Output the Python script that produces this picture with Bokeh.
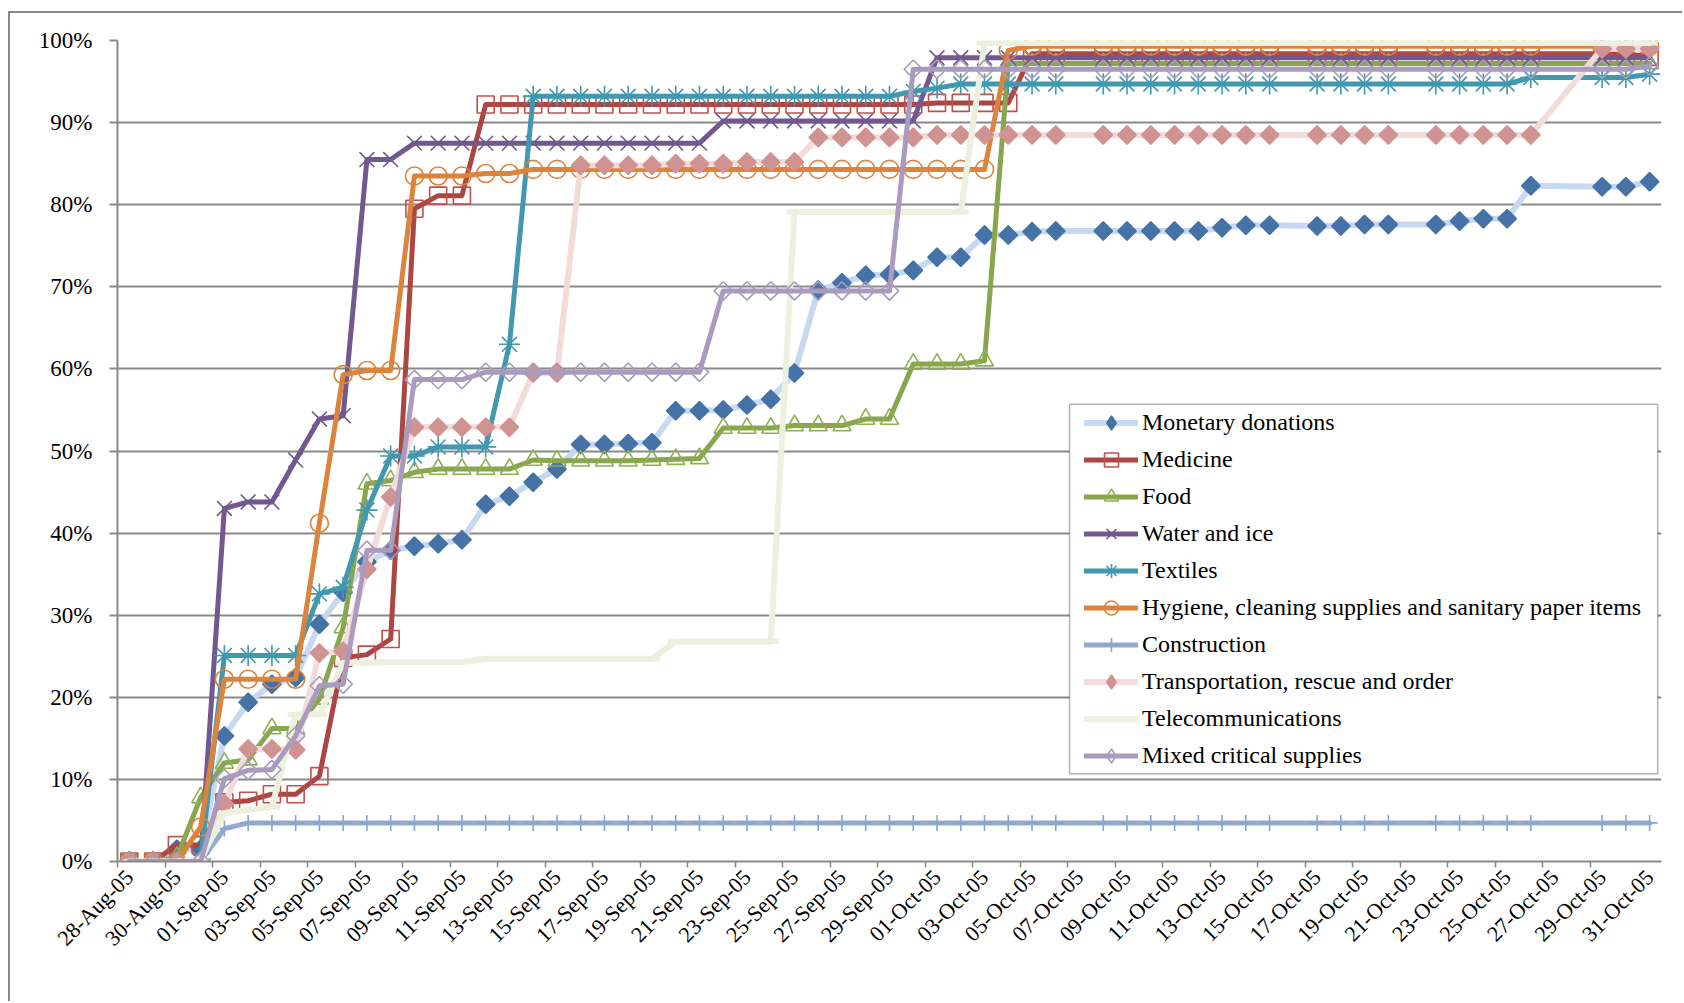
from math import pi

import pandas as pd
from bokeh.embed import file_html
from bokeh.models import (BoxAnnotation, ColumnDataSource, FixedTicker, Legend, LegendItem,
                          PrintfTickFormatter, Range1d)
from bokeh.plotting import figure
from bokeh.resources import INLINE

# Daily categories, 28 Aug 2005 .. 31 Oct 2005
dates = pd.date_range("2005-08-28", "2005-10-31", freq="D")
day_labels = [d.strftime("%d-%b-%y") for d in dates]

N = None  # no report on that day

# Cumulative share (%) of each donation category
monetary = [0, 0, 1.5, 1.5, 15.3, 19.4, 21.6, 22.4, 28.9, 32.8,
            36.5, 37.9, 38.4, 38.7, 39.2, 43.5, 44.5, 46.2, 47.8, 50.8,
            50.8, 50.9, 51.0, 54.9, 54.9, 55.0, 55.6, 56.3, 59.5, 69.6,
            70.5, 71.4, 71.5, 72.0, 73.6, 73.6, 76.3, 76.3, 76.7, 76.8,
            N, 76.8, 76.8, 76.8, 76.8, 76.8, 77.2, 77.5, 77.5, N,
            77.4, 77.4, 77.6, 77.6, N, 77.6, 78.0, 78.3, 78.3, 82.3,
            N, N, 82.2, 82.2, 82.8]
medicine = [0, 0, 2.0, 2.0, 7.2, 7.4, 8.2, 8.2, 10.4, 24.8,
            25.2, 27.1, 79.5, 81.1, 81.1, 92.2, 92.2, 92.2, 92.2, 92.2,
            92.2, 92.2, 92.2, 92.2, 92.2, 92.2, 92.2, 92.2, 92.2, 92.2,
            92.2, 92.2, 92.2, 92.2, 92.4, 92.4, 92.4, 92.4, 98.4, 98.4,
            N, 98.4, 98.4, 98.4, 98.4, 98.4, 98.4, 98.4, 98.4, N,
            98.4, 98.4, 98.4, 98.4, N, 98.4, 98.4, 98.4, 98.4, 98.4,
            N, N, 98.4, 98.4, 98.0]
food = [0, 0, 0.5, 7.8, 12.0, 12.4, 16.2, 16.2, 19.8, 28.5,
        46.0, 46.4, 47.4, 47.8, 47.8, 47.8, 47.8, 48.9, 48.8, 48.8,
        48.8, 48.8, 48.9, 49.0, 49.1, 52.8, 52.8, 52.8, 53.1, 53.1,
        53.1, 53.9, 53.9, 60.6, 60.6, 60.6, 61.0, 97.2, 97.2, 97.2,
        N, 97.2, 97.2, 97.2, 97.2, 97.2, 97.2, 97.2, 97.2, N,
        97.2, 97.2, 97.2, 97.2, N, 97.2, 97.2, 97.2, 97.2, 97.2,
        N, N, 97.2, 97.2, 97.2]
water_ice = [0, 0, 0, 0, 43.0, 43.8, 43.8, 48.9, 53.9, 54.3,
             85.5, 85.5, 87.5, 87.5, 87.5, 87.5, 87.5, 87.5, 87.5, 87.5,
             87.5, 87.5, 87.5, 87.5, 87.5, 90.2, 90.2, 90.2, 90.2, 90.2,
             90.2, 90.2, 90.2, 90.2, 97.9, 97.9, 97.9, 97.9, 97.9, 97.9,
             N, 97.9, 97.9, 97.9, 97.9, 97.9, 97.9, 97.9, 97.9, N,
             97.9, 97.9, 97.9, 97.9, N, 97.9, 97.9, 97.9, 97.9, 97.9,
             N, N, 97.9, 97.9, 97.9]
textiles = [0, 0, 0, 0.3, 25.1, 25.1, 25.1, 25.1, 32.6, 33.4,
            42.8, 49.4, 49.4, 50.5, 50.5, 50.5, 63.0, 93.2, 93.2, 93.2,
            93.2, 93.2, 93.2, 93.2, 93.2, 93.2, 93.2, 93.2, 93.2, 93.2,
            93.2, 93.2, 93.2, 93.8, 94.2, 94.7, 94.7, 94.7, 94.7, 94.7,
            N, 94.7, 94.7, 94.7, 94.7, 94.7, 94.7, 94.7, 94.7, N,
            94.7, 94.7, 94.7, 94.7, N, 94.7, 94.7, 94.7, 94.7, 95.5,
            N, N, 95.5, 95.5, 95.9]
hygiene = [0, 0, 0, 4.2, 22.2, 22.2, 22.2, 22.2, 41.2, 59.3,
           59.8, 59.8, 83.5, 83.5, 83.5, 83.8, 83.8, 84.3, 84.3, 84.3,
           84.3, 84.3, 84.3, 84.3, 84.3, 84.3, 84.3, 84.3, 84.3, 84.3,
           84.3, 84.3, 84.3, 84.3, 84.3, 84.3, 84.3, 98.8, 99.3, 99.3,
           N, 99.3, 99.3, 99.3, 99.3, 99.3, 99.3, 99.3, 99.3, N,
           99.3, 99.3, 99.3, 99.3, N, 99.3, 99.3, 99.3, 99.3, 99.3,
           N, N, 99.3, 99.3, 99.3]
construction = [0, 0, 0, 0, 4.0, 4.7, 4.7, 4.7, 4.7, 4.7,
                4.7, 4.7, 4.7, 4.7, 4.7, 4.7, 4.7, 4.7, 4.7, 4.7,
                4.7, 4.7, 4.7, 4.7, 4.7, 4.7, 4.7, 4.7, 4.7, 4.7,
                4.7, 4.7, 4.7, 4.7, 4.7, 4.7, 4.7, 4.7, 4.7, 4.7,
                N, 4.7, 4.7, 4.7, 4.7, 4.7, 4.7, 4.7, 4.7, N,
                4.7, 4.7, 4.7, 4.7, N, 4.7, 4.7, 4.7, 4.7, 4.7,
                N, N, 4.7, 4.7, 4.7]
transport = [0, 0, 0, 0, 7.0, 13.7, 13.7, 13.6, 25.4, 25.6,
             35.6, 44.4, 52.9, 52.9, 52.9, 52.9, 52.9, 59.5, 59.5, 84.8,
             84.8, 84.8, 84.8, 85.0, 85.0, 85.0, 85.2, 85.2, 85.2, 88.2,
             88.2, 88.2, 88.2, 88.2, 88.5, 88.5, 88.5, 88.5, 88.5, 88.5,
             N, 88.5, 88.5, 88.5, 88.5, 88.5, 88.5, 88.5, 88.5, N,
             88.5, 88.5, 88.5, 88.5, N, 88.5, 88.5, 88.5, 88.5, 88.5,
             N, N, 99.0, 99.0, 99.0]
telecom = [0, 0, 0, 0.3, 5.9, 6.3, 6.6, 17.9, 17.9, 24.2,
           24.2, 24.3, 24.3, 24.3, 24.3, 24.7, 24.7, 24.7, 24.7, 24.7,
           24.7, 24.7, 24.7, 26.8, 26.8, 26.8, 26.8, 26.8, 79.1, 79.1,
           79.1, 79.1, 79.1, 79.1, 79.1, 79.1, 99.7, 99.7, 99.7, 99.7,
           N, 99.7, 99.7, 99.7, 99.7, 99.7, 99.7, 99.7, 99.7, N,
           99.7, 99.7, 99.7, 99.7, N, 99.7, 99.7, 99.7, 99.7, 99.7,
           N, N, 99.7, 99.7, 99.7]
mixed = [0, 0, 0, 0, 10.1, 11.1, 11.2, 15.3, 21.4, 21.6,
         37.9, 37.9, 58.7, 58.7, 58.7, 59.6, 59.6, 59.6, 59.6, 59.6,
         59.6, 59.6, 59.6, 59.6, 59.6, 69.5, 69.5, 69.5, 69.5, 69.5,
         69.5, 69.5, 69.5, 96.5, 96.5, 96.5, 96.5, 96.5, 96.5, 96.5,
         N, 96.5, 96.5, 96.5, 96.5, 96.5, 96.5, 96.5, 96.5, N,
         96.5, 96.5, 96.5, 96.5, N, 96.5, 96.5, 96.5, 96.5, 96.5,
         N, N, 96.5, 96.5, 96.9]

# name, values, line colour, marker, marker fill, marker outline, marker size
series = [
    ("Monetary donations", monetary, "#c6d9f1", "square", "#4572a7", "#4572a7", 13),
    ("Medicine", medicine, "#aa4643", "square", None, "#c0504d", 17),
    ("Food", food, "#89a54e", "triangle", None, "#8db14f", 18),
    ("Water and ice", water_ice, "#71588f", "x", None, "#71588f", 21),
    ("Textiles", textiles, "#4198af", "asterisk", None, "#4198af", 21),
    ("Hygiene, cleaning supplies and sanitary paper items", hygiene, "#db843d", "circle", None, "#e0823b", 18),
    ("Construction", construction, "#93a9cf", "cross", None, "#8aa4cc", 16),
    ("Transportation, rescue and order", transport, "#f2dcdb", "square", "#d19392", "#d19392", 13),
    ("Telecommunications", telecom, "#ebf1de", "dash", None, "#ebf1de", 16),
    ("Mixed critical supplies", mixed, "#a99bbd", "square", None, "#a99bbd", 13),
]
# series whose markers are diamonds (squares turned by 45 degrees)
diamonds = {"Monetary donations", "Transportation, rescue and order", "Mixed critical supplies"}

GRID = "#898989"
FONT = "Liberation Serif"

p = figure(frame_width=1544, frame_height=821,
           x_range=Range1d(-0.5, 64.5), y_range=Range1d(0, 100),
           min_border_left=107, min_border_top=27, min_border_right=21, min_border_bottom=140,
           output_backend="svg", toolbar_location=None)
p.margin = (11, 0, 0, 8)
p.styles = {"border-left": f"2px solid {GRID}", "border-top": f"2px solid {GRID}"}
p.outline_line_color = None
p.background_fill_color = "white"
p.border_fill_color = "white"
# range used only by the legend key renderers, which keeps their points off the frame
p.extra_x_ranges = {"legend_keys": Range1d(1000, 1001)}

# y axis: 0% .. 100%
p.yaxis.ticker = FixedTicker(ticks=list(range(0, 101, 10)))
p.yaxis.formatter = PrintfTickFormatter(format="%d%%")
p.yaxis.major_label_text_font = FONT
p.yaxis.major_label_text_font_size = "23px"
p.yaxis.major_label_text_color = "black"
p.yaxis.major_label_standoff = 17
p.yaxis.major_tick_out = 8
p.yaxis.major_tick_in = 0
p.yaxis.minor_tick_line_color = None
p.yaxis.major_tick_line_color = GRID
p.yaxis.major_tick_line_width = 2
p.yaxis.axis_line_color = GRID
p.yaxis.axis_line_width = 2

# x axis: labels on every second day, tick marks between categories
even_days = list(range(0, len(day_labels), 2))
p.xaxis.ticker = FixedTicker(ticks=even_days,
                             minor_ticks=[k - 0.5 for k in range(0, len(day_labels) - 1, 2)])
p.xaxis.major_label_overrides = {k: day_labels[k] for k in even_days}
p.xaxis.major_label_orientation = pi / 4
p.xaxis.major_label_text_font = FONT
p.xaxis.major_label_text_font_size = "22px"
p.xaxis.major_label_text_color = "black"
p.xaxis.major_label_standoff = 6
p.xaxis.major_tick_line_color = None
p.xaxis.major_tick_out = 6
p.xaxis.minor_tick_line_color = GRID
p.xaxis.minor_tick_line_width = 1.5
p.xaxis.minor_tick_out = 6
p.xaxis.minor_tick_in = 0
p.xaxis.axis_line_color = GRID
p.xaxis.axis_line_width = 2

p.xgrid.grid_line_color = None
p.ygrid.grid_line_color = GRID
p.ygrid.grid_line_width = 2

items = []
for name, vals, line_col, marker, fill, edge, size in series:
    xs = [k for k, v in enumerate(vals) if v is not None]
    ys = [v for v in vals if v is not None]
    src = ColumnDataSource(data=dict(x=xs, y=ys))
    lw = 6 if line_col in ("#c6d9f1", "#f2dcdb", "#ebf1de") else 5
    line_r = p.line("x", "y", source=src, line_color=line_col, line_width=lw,
                    line_join="round", line_cap="round")
    kw = dict(marker=marker, size=size, line_color=edge, line_width=1.6,
              fill_color=fill if fill else None)
    if marker == "dash":
        kw["line_width"] = 5
    if name in diamonds:
        kw["angle"] = pi / 4
    p.scatter("x", "y", source=src, **kw)
    # legend key: drawn unrotated, so diamond series use the diamond shape
    key_kw = dict(kw)
    key_kw.pop("angle", None)
    if name in diamonds:
        key_kw["marker"] = "diamond"
    if marker == "dash":
        key_kw["line_width"] = 4
    key_r = p.scatter("x", "y", source=src, x_range_name="legend_keys", **key_kw)
    items.append(LegendItem(label=name, renderers=[line_r, key_r]))

# legend frame
p.add_layout(BoxAnnotation(left=39.58, right=64.34, top=55.7, bottom=10.7,
                           fill_color="white", fill_alpha=1,
                           line_color="black", line_width=1.5, level="annotation"))

legend = Legend(items=items, location=(967, 88),
                border_line_color=None, background_fill_alpha=0,
                label_text_font=FONT, label_text_font_size="24px", label_text_color="black",
                glyph_width=54, glyph_height=35, label_height=35,
                spacing=2, padding=0, label_standoff=4, margin=0)
p.add_layout(legend)

open("out.html", "w").write(file_html(p, INLINE))
